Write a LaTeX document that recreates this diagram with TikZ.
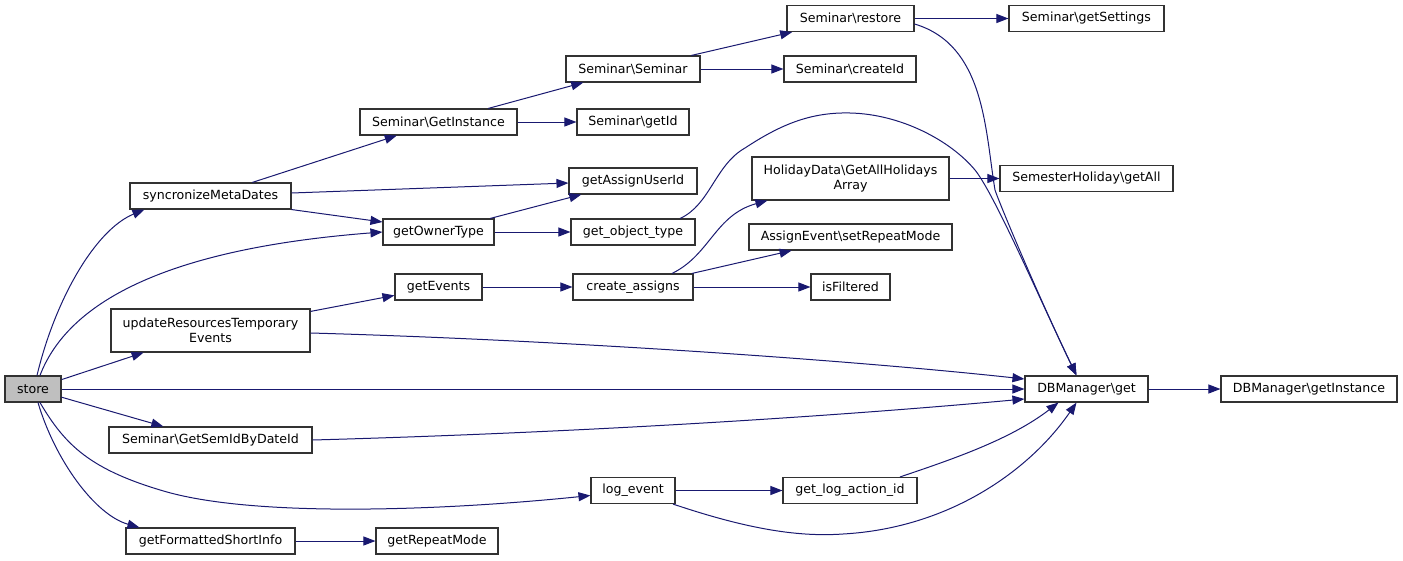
\documentclass[tikz,border=0pt]{standalone}
\usepackage{fontspec}
\setmainfont{DejaVu Sans}
\usetikzlibrary{arrows.meta}
\definecolor{mblue}{RGB}{25,25,112}
\definecolor{nodegray}{RGB}{191,191,191}
\definecolor{edgeblack}{RGB}{50,50,50}
\tikzset{
  fn/.style={draw=edgeblack, line width=1.1pt, fill=white, rectangle, inner sep=0pt,
    minimum height=26pt, font=\fontsize{12.6pt}{15pt}\selectfont, align=center},
  call/.style={draw=mblue, line width=1pt, -{Triangle[length=12pt,width=9pt]}, mblue}
}
\newcommand{\bs}{\textbackslash}
\begin{document}
\begin{tikzpicture}[x=1pt,y=-1pt]
\useasboundingbox (0,0) rectangle (1403,560);
% nodes
\node[fn, fill=nodegray, minimum width=56pt] (store) at (33,389) {store};
\node[fn, minimum width=161pt] (sync) at (210.5,196) {syncronizeMetaDates};
\node[fn, minimum width=199pt, minimum height=43pt] (upd) at (210.5,330.5) {updateResourcesTemporary\\Events};
\node[fn, minimum width=203pt] (semid) at (210.5,440) {Seminar\bs GetSemIdByDateId};
\node[fn, minimum width=169pt] (fmt) at (210.5,541) {getFormattedShortInfo};
\node[fn, minimum width=134pt] (sem) at (633,69) {Seminar\bs Seminar};
\node[fn, minimum width=157pt] (getinst) at (438.5,122) {Seminar\bs GetInstance};
\node[fn, minimum width=112pt] (getid) at (633,122) {Seminar\bs getId};
\node[fn, minimum width=128pt] (assignuid) at (633,181) {getAssignUserId};
\node[fn, minimum width=111pt] (owner) at (438.5,232) {getOwnerType};
\node[fn, minimum width=124pt] (objtype) at (633,232) {get\_object\_type};
\node[fn, minimum width=197pt, minimum height=43pt] (holiday) at (850.5,178.5) {HolidayData\bs GetAllHolidays\\Array};
\node[fn, minimum width=203pt] (setrep) at (850.5,237) {AssignEvent\bs setRepeatMode};
\node[fn, minimum width=120pt] (create) at (633,287) {create\_assigns};
\node[fn, minimum width=79pt] (isfilt) at (850.5,287) {isFiltered};
\node[fn, minimum width=127pt] (restore) at (850.5,18.5) {Seminar\bs restore};
\node[fn, minimum width=155pt] (settings) at (1086.5,18.5) {Seminar\bs getSettings};
\node[fn, minimum width=132pt] (createid) at (850,69) {Seminar\bs createId};
\node[fn, minimum width=173pt] (semhol) at (1086.5,178.5) {SemesterHoliday\bs getAll};
\node[fn, minimum width=87pt] (events) at (438.5,287) {getEvents};
\node[fn, minimum width=84pt] (logev) at (633,490.5) {log\_event};
\node[fn, minimum width=134pt] (logact) at (850,490.5) {get\_log\_action\_id};
\node[fn, minimum width=123pt] (dbget) at (1086.5,389) {DBManager\bs get};
\node[fn, minimum width=176pt] (dbinst) at (1309,389) {DBManager\bs getInstance};
\node[fn, minimum width=122pt] (repmode) at (437,541) {getRepeatMode};
% edges
\draw[call] ([xshift=4pt]store.north) .. controls (55,300) and (95,230) .. ([xshift=15pt]sync.south west);
\draw[call] ([xshift=7pt]store.north) .. controls (65,310) and (150,250) .. (owner.west);
\draw[call] (store) -- (upd);
\draw[call] (store.east) -- (dbget.west);
\draw[call] (store) -- (semid);
\draw[call] ([xshift=7pt]store.south) .. controls (65,445) and (90,470) .. (167,492)
   .. controls (260,518) and (450,510) .. ([yshift=-5pt]logev.west);
\draw[call] ([xshift=5pt]store.south) .. controls (55,460) and (95,515) .. ([xshift=14pt]fmt.north west);
\draw[call] (sync) -- (getinst);
\draw[call] ([yshift=3pt]sync.east) -- ([yshift=-2pt]assignuid.west);
\draw[call] (sync.south east) -- ([yshift=10pt]owner.west);
\draw[call] (getinst) -- (sem);
\draw[call] (getinst.east) -- (getid.west);
\draw[call] (sem) -- (restore);
\draw[call] (sem.east) -- (createid.west);
\draw[call] (restore.east) -- (settings.west);
\draw[call] ([yshift=-5.5pt]restore.east) .. controls (985,45) and (985,130) .. (995,190)
   .. controls (1000,205) and (1040,300) .. ([xshift=-10pt]dbget.north);
\draw[call] (owner) -- (assignuid);
\draw[call] (owner.east) -- (objtype.west);
\draw[call] ([xshift=47pt]objtype.north) .. controls (710,205) and (715,165) .. (745,148)
   .. controls (780,125) and (810,112) .. (850,113)
   .. controls (900,114) and (950,140) .. (975,170)
   .. controls (995,195) and (1040,300) .. ([xshift=-10pt]dbget.north);
\draw[call] (upd) -- (events);
\draw[call] ([yshift=-2.5pt]upd.east) .. controls (560,340) and (850,360) .. ([yshift=10pt]dbget.west);
\draw[call] (events.east) -- (create.west);
\draw[call] ([xshift=39pt]create.north) .. controls (710,255) and (715,215) .. ([xshift=16pt]holiday.south west);
\draw[call] (create) -- (setrep);
\draw[call] (create.east) -- (isfilt.west);
\draw[call] (holiday.east) -- (semhol.west);
\draw[call] (semid.east) .. controls (600,432) and (850,415) .. ([yshift=-10pt]dbget.west);
\draw[call] (logev.east) -- (logact.west);
\draw[call] ([xshift=40pt]logev.south) .. controls (750,530) and (800,537) .. (843,534)
   .. controls (950,528) and (1030,470) .. ([xshift=-10pt]dbget.south);
\draw[call] ([xshift=50pt]logact.north) .. controls (950,460) and (1010,440) .. ([xshift=-28pt]dbget.south);
\draw[call] (fmt.east) -- (repmode.west);
\draw[call] (dbget.east) -- (dbinst.west);
\end{tikzpicture}
\end{document}
